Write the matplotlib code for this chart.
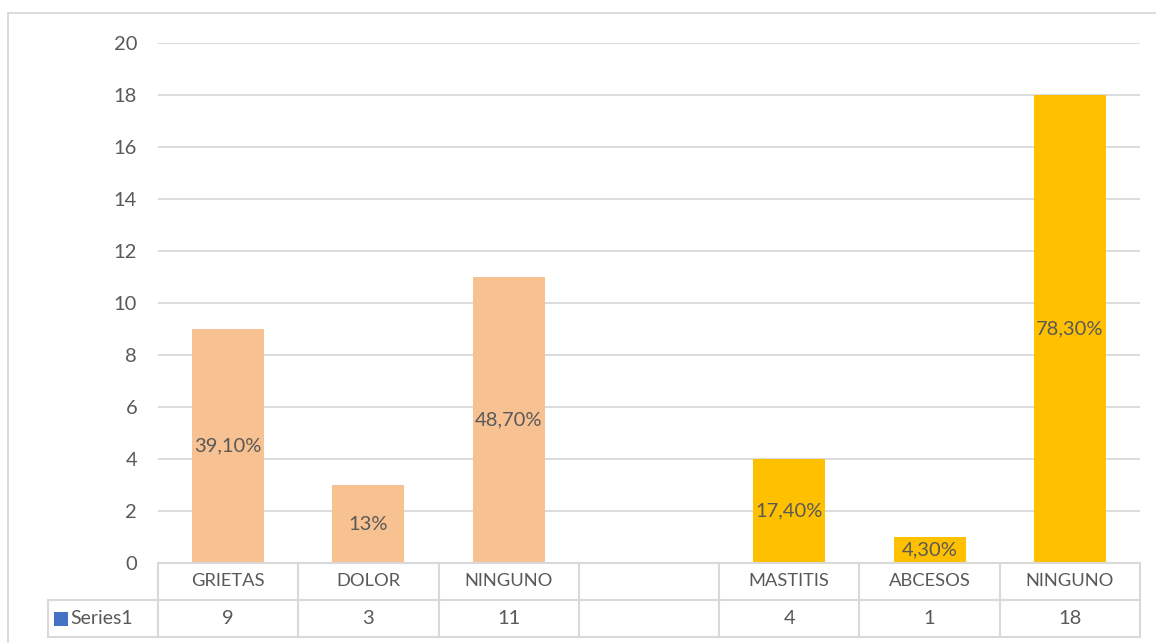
import matplotlib
matplotlib.use("Agg")
import matplotlib.pyplot as plt
from matplotlib.lines import Line2D
from matplotlib.patches import Rectangle

categories = ["GRIETAS", "DOLOR", "NINGUNO", "", "MASTITIS", "ABCESOS", "NINGUNO"]
values = [9, 3, 11, None, 4, 1, 18]
pct_labels = ["39,10%", "13%", "48,70%", "", "17,40%", "4,30%", "78,30%"]
bar_colors = ["#F8C191", "#F8C191", "#F8C191", None, "#FFC000", "#FFC000", "#FFC000"]
series_name = "Series1"
y_ticks = list(range(0, 21, 2))

W, H = 1156, 643
TEXT = "#595959"
GRID = "#D9D9D9"
NUM_FS = 14.5
CAT_FS = 13.2
plt.rcParams["font.family"] = ["Lato", "DejaVu Sans"]

fig = plt.figure(figsize=(W / 100, H / 100), dpi=100)
fig.patch.set_facecolor("white")


def fx(x):
    return x / W


def fy(y):
    return 1 - y / H


# plot area in pixels
L, R, T, B = 158, 1140, 43, 563
ax = fig.add_axes([fx(L), fy(B), (R - L) / W, (B - T) / H])
n = len(categories)
ax.set_xlim(-0.5, n - 0.5)
ax.set_ylim(0, 20)
ax.set_yticks(y_ticks)
ax.set_yticklabels([str(t) for t in y_ticks], fontsize=NUM_FS, color=TEXT)
ax.tick_params(axis="y", length=0, pad=15)
ax.set_xticks([])
for s in ax.spines.values():
    s.set_visible(False)
ax.grid(axis="y", color=GRID, linewidth=1.3)
ax.set_axisbelow(True)

for i, (v, lab, c) in enumerate(zip(values, pct_labels, bar_colors)):
    if v is None:
        continue
    ax.bar(i, v, width=0.514, color=c, zorder=2)
    bbox = None
    if v < 2:
        bbox = dict(boxstyle="square,pad=0.22", facecolor=c, edgecolor="none")
    ax.text(i, v / 2, lab, ha="center", va="center", fontsize=NUM_FS,
            color=TEXT, zorder=4, bbox=bbox)


def hline(x0, x1, y, color=GRID, lw=1.5):
    fig.add_artist(Line2D([fx(x0), fx(x1)], [fy(y), fy(y)], color=color,
                          linewidth=lw, transform=fig.transFigure))


def vline(x, y0, y1, color=GRID, lw=1.5):
    fig.add_artist(Line2D([fx(x), fx(x)], [fy(y0), fy(y1)], color=color,
                          linewidth=lw, transform=fig.transFigure))


# outer chart frame
hline(8, W, 13, lw=1.3)
vline(8, 13, H, lw=1.3)

# data table beneath the plot
row1, row2, row3 = 563, 600, 637
col_w = (R - L) / n
left_col = 48
hline(L, R, row1)
hline(left_col, R, row2)
hline(left_col, R, row3)
vline(left_col, row2, row3)
for k in range(n + 1):
    vline(L + k * col_w, row1, row3)

for i, (cat, v) in enumerate(zip(categories, values)):
    cx = L + (i + 0.5) * col_w
    fig.text(fx(cx), fy((row1 + row2) / 2), cat, ha="center", va="center",
             fontsize=CAT_FS, color=TEXT)
    if v is not None:
        fig.text(fx(cx), fy((row2 + row3) / 2), str(v), ha="center",
                 va="center", fontsize=NUM_FS, color=TEXT)

fig.add_artist(Rectangle((fx(54), fy(626)), 14 / W, 14 / H, facecolor="#4472C4",
                         edgecolor="none", transform=fig.transFigure))
fig.text(fx(70), fy((row2 + row3) / 2), series_name, ha="left", va="center",
         fontsize=14, color=TEXT)

fig.savefig("out.png", dpi=100, facecolor="white")
